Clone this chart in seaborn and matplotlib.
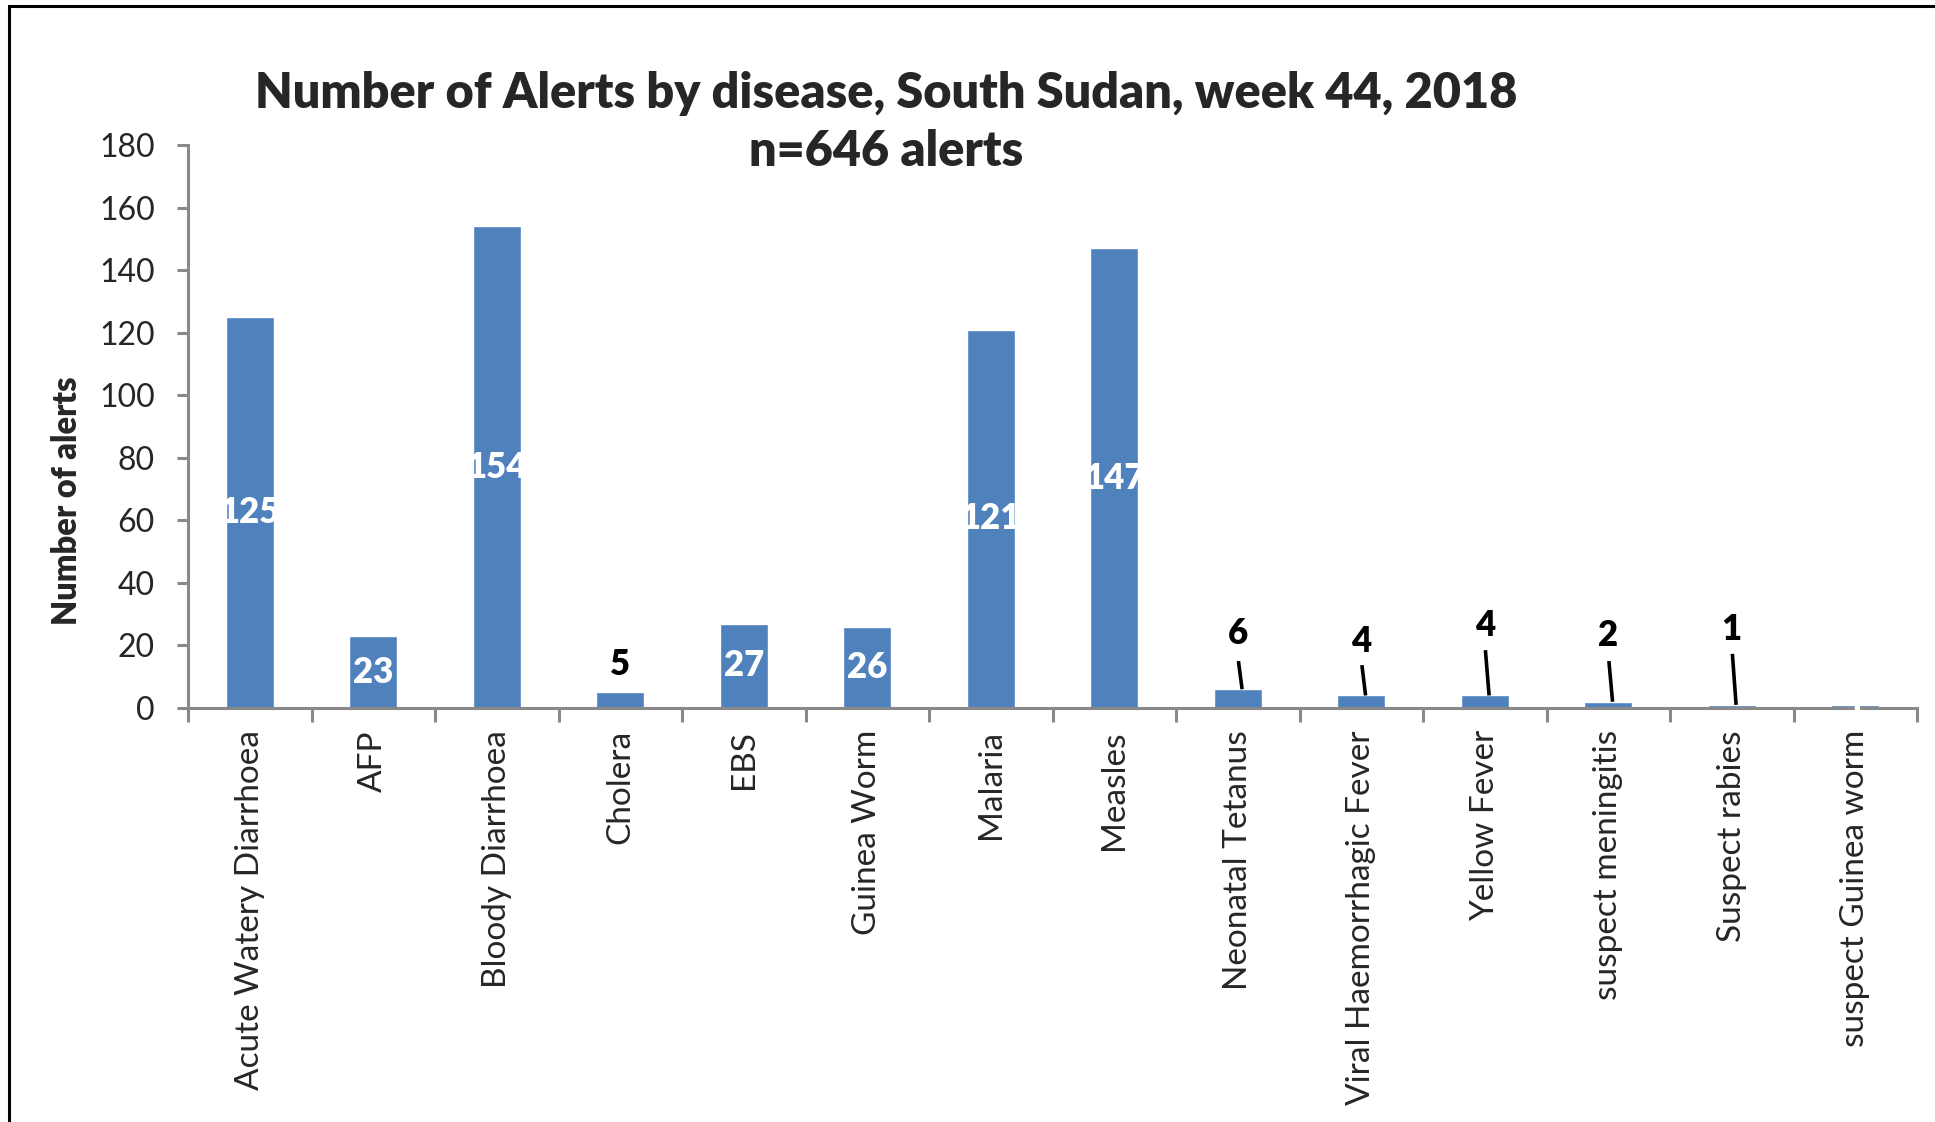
import matplotlib
matplotlib.use("Agg")
import matplotlib.pyplot as plt
import seaborn as sns
from matplotlib.patches import Rectangle
from matplotlib.ticker import FixedLocator

# data
diseases = ["Acute Watery Diarrhoea", "AFP", "Bloody Diarrhoea", "Cholera", "EBS",
            "Guinea Worm", "Malaria", "Measles", "Neonatal Tetanus",
            "Viral Haemorrhagic Fever", "Yellow Fever", "suspect meningitis",
            "Suspect rabies", "suspect Guinea worm"]
alerts = [125, 23, 154, 5, 27, 26, 121, 147, 6, 4, 4, 2, 1, 1]

title = "Number of Alerts by disease, South Sudan, week 44, 2018\nn=646 alerts"
y_label = "Number of alerts"

# small bars whose labels sit above the bar (index -> label height, leader top)
outside_labels = {3: (14.0, None), 8: (23.7, 15.0), 9: (21.1, 13.7),
                  10: (26.5, 18.5), 11: (23.3, 15.0), 12: (25.0, 17.3)}

sns.set_style("white")
plt.rcParams["font.family"] = ["Lato", "DejaVu Sans"]

bar_color = "#4F81BD"
axis_color = "#898989"
heavy = "heavy"

fig = plt.figure(figsize=(19.35, 11.22), dpi=100)
ax = fig.add_axes([0.0972, 0.369, 0.8935, 0.5017])

sns.barplot(x=diseases, y=alerts, color=bar_color, saturation=1, width=0.39, ax=ax)

ax.set_xlim(-0.5, len(diseases) - 0.5)
ax.set_ylim(0, 180)
ax.set_yticks(range(0, 181, 20))

for side in ["top", "right"]:
    ax.spines[side].set_visible(False)
for side in ["left", "bottom"]:
    ax.spines[side].set_color(axis_color)
    ax.spines[side].set_linewidth(2.2)

ax.tick_params(axis="y", direction="out", length=8, width=2.2, color=axis_color,
               pad=16, labelsize=23, left=True)
ax.tick_params(axis="x", which="major", length=0, pad=16, labelsize=24, rotation=90)
ax.xaxis.set_minor_locator(FixedLocator([i - 0.5 for i in range(len(diseases) + 1)]))
ax.tick_params(axis="x", which="minor", direction="out", length=10, width=2.2,
               color=axis_color, bottom=True)
for lab in ax.get_xticklabels():
    lab.set_va("top")
    lab.set_ha("center")

ax.set_xlabel("")
ax.set_ylabel(y_label, fontsize=23.5, fontweight=heavy)
ax.yaxis.set_label_coords(-0.0607, 0.369)

# value labels
for i, v in enumerate(alerts):
    if i in outside_labels:
        ly, top = outside_labels[i]
        ax.text(i, ly, str(v), ha="center", va="center", fontsize=25,
                fontweight=heavy, color="black")
        if top is not None:
            ax.plot([i + 0.005, i + 0.035], [top, v], color="black", lw=2.6,
                    solid_capstyle="butt", clip_on=False)
    else:
        ax.text(i, v / 2, str(v), ha="center", va="center", fontsize=25,
                fontweight=heavy, color="white")

fig.text(0.458, 0.891, title, ha="center", va="center", fontsize=35,
         fontweight=heavy, linespacing=1.35)

# outer chart border (runs off the right and bottom of the image)
fig.patches.append(Rectangle((0.0045, -0.1), 1.2, 1.0946, transform=fig.transFigure,
                             fill=False, edgecolor="black", linewidth=2.2))

fig.savefig("out.png", dpi=100)
